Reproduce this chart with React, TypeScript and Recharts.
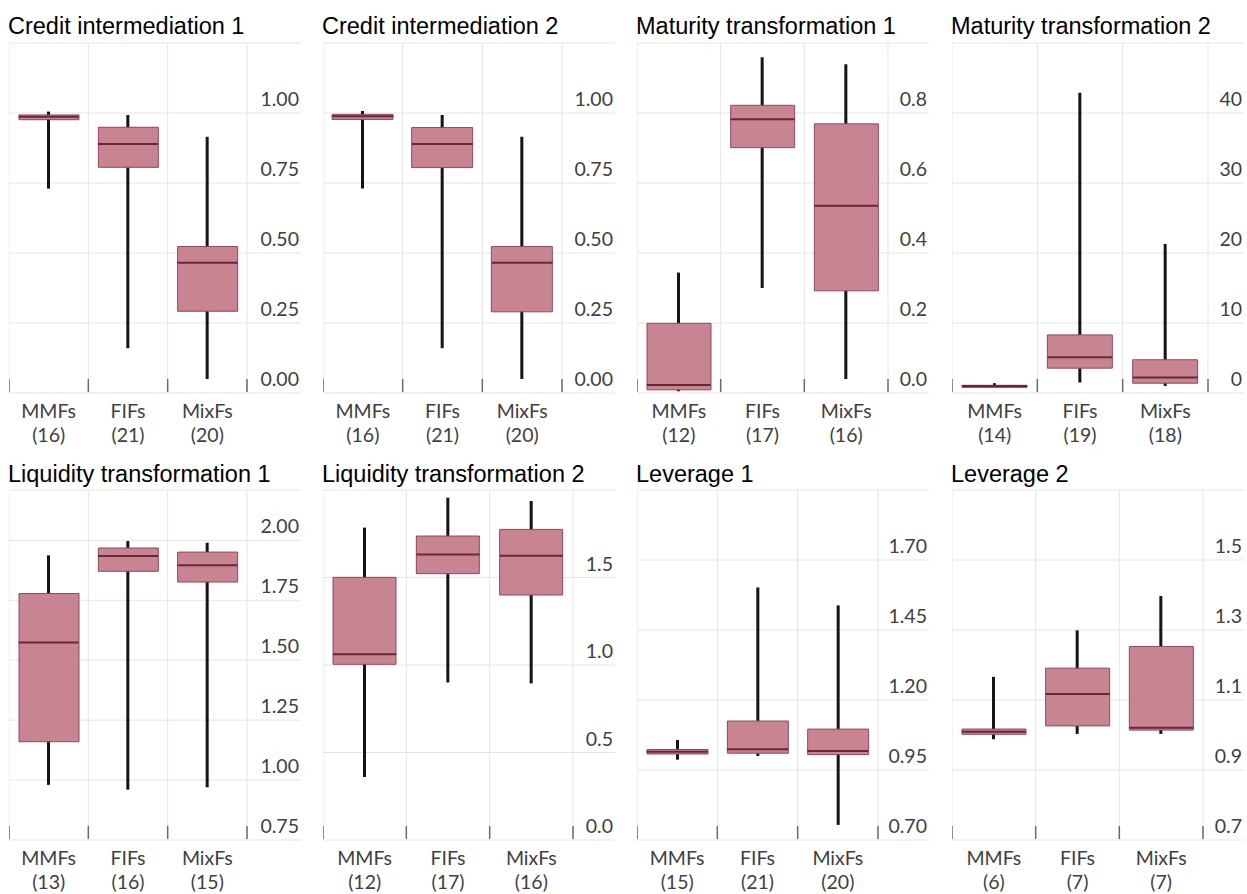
import React from "react";
import { Bar, CartesianGrid, ComposedChart, Scatter, XAxis, YAxis } from "recharts";

const categories = ["MMFs", "FIFs", "MixFs"];

const panelTitles = [
  "Credit intermediation 1",
  "Credit intermediation 2",
  "Maturity transformation 1",
  "Maturity transformation 2",
  "Liquidity transformation 1",
  "Liquidity transformation 2",
  "Leverage 1",
  "Leverage 2"
];

// number of funds in each group, one row per panel
const fundCounts = [
  [16, 21, 20],
  [16, 21, 20],
  [12, 17, 16],
  [14, 19, 18],
  [13, 16, 15],
  [12, 17, 16],
  [15, 21, 20],
  [6, 7, 7]
];

const whiskerLow = [
  [0.73, 0.16, 0.05],
  [0.73, 0.16, 0.05],
  [0.005, 0.3, 0.04],
  [0.9, 1.5, 1.0],
  [0.98, 0.96, 0.97],
  [0.36, 0.9, 0.895],
  [0.987, 1.0, 0.754],
  [0.988, 1.003, 1.003]
];

const quartile1 = [
  [0.976, 0.806, 0.292],
  [0.977, 0.805, 0.29],
  [0.009, 0.701, 0.292],
  [0.8, 3.55, 1.4],
  [1.16, 1.871, 1.826],
  [1.004, 1.522, 1.4],
  [1.007, 1.01, 1.005],
  [1.002, 1.026, 1.014]
];

const medians = [
  [0.987, 0.889, 0.465],
  [0.988, 0.889, 0.465],
  [0.023, 0.782, 0.535],
  [1.0, 5.1, 2.2],
  [1.574, 1.935, 1.896],
  [1.061, 1.632, 1.625],
  [1.015, 1.024, 1.018],
  [1.009, 1.117, 1.021]
];

const quartile3 = [
  [0.993, 0.949, 0.523],
  [0.995, 0.948, 0.523],
  [0.199, 0.822, 0.769],
  [1.1, 8.3, 4.75],
  [1.778, 1.968, 1.951],
  [1.501, 1.737, 1.775],
  [1.023, 1.125, 1.096],
  [1.017, 1.191, 1.253]
];

const whiskerHigh = [
  [1.005, 0.993, 0.915],
  [1.007, 0.993, 0.915],
  [0.344, 0.959, 0.939],
  [1.4, 42.9, 21.3],
  [1.9375, 1.997, 1.99],
  [1.785, 1.956, 1.937],
  [1.057, 1.602, 1.538],
  [1.166, 1.299, 1.397]
];

// labelled y ticks per panel; axisTop is the unlabelled top edge of each frame
const axisTicks = [
  [0, 0.25, 0.5, 0.75, 1],
  [0, 0.25, 0.5, 0.75, 1],
  [0, 0.2, 0.4, 0.6, 0.8],
  [0, 10, 20, 30, 40],
  [0.75, 1, 1.25, 1.5, 1.75, 2],
  [0, 0.5, 1, 1.5],
  [0.7, 0.95, 1.2, 1.45, 1.7],
  [0.7, 0.9, 1.1, 1.3, 1.5]
];
const axisTop = [1.25, 1.25, 1.0, 50, 2.21, 2.0, 1.95, 1.7];
const tickDecimals = [2, 2, 1, 0, 2, 1, 2, 1];

// layout
const colLeft = [9, 323, 637, 952];
const plotTop = [43, 490];
const titleTop = [15, 463];
const axisWidths = [54, 53, 41, 36, 54, 42, 51, 41];
const PANEL_W = 292;
const PLOT_H = 350;
const MARGIN_TOP = 1;
const X_AXIS_H = 55;

const GRID = "#e4e4e4";
const TICK = "#6a6a6a";
const LABEL = "#404040";
const BOX_FILL = "#c98494";
const BOX_STROKE = "#8b4a5c";
const MEDIAN = "#6b2636";
const WHISKER = "#141414";
const LABEL_FONT = "Lato, 'Open Sans', sans-serif";
const LABEL_SIZE = 19.5;

function Panel({ index }: { index: number }) {
  const col = index % 4;
  const row = Math.floor(index / 4);
  const axisW = axisWidths[index];
  const plotW = PANEL_W - axisW;
  const band = plotW / 3;
  const boxW = Math.round(band * 0.76);
  const bottom = MARGIN_TOP + PLOT_H;
  const top = axisTop[index];
  const ticks = [...axisTicks[index], top];

  const data = categories.map((name, i) => ({
    name,
    count: fundCounts[index][i],
    whisker: [whiskerLow[index][i], whiskerHigh[index][i]],
    box: [quartile1[index][i], quartile3[index][i]],
    median: medians[index][i]
  }));

  const renderYTick = (props: any) => {
    const { y, payload } = props;
    const v = payload.value;
    return (
      <g>
        <line x1={plotW} x2={PANEL_W} y1={y} y2={y} stroke={GRID} />
        {v !== top && (
          <text x={PANEL_W - 2} y={y - 7} textAnchor="end" fill={LABEL} fontSize={LABEL_SIZE} fontFamily={LABEL_FONT}>
            {Number(v).toFixed(tickDecimals[index])}
          </text>
        )}
      </g>
    );
  };

  const renderXTick = (props: any) => {
    const { x, payload, index: i } = props;
    const edges = i === categories.length - 1 ? [x - band / 2, x + band / 2] : [x - band / 2];
    return (
      <g>
        {edges.map((ex) => (
          <g key={ex}>
            <line x1={ex} x2={ex} y1={MARGIN_TOP} y2={bottom} stroke={GRID} />
            <line x1={ex} x2={ex} y1={bottom - 14} y2={bottom - 1} stroke={TICK} strokeWidth={1.5} />
          </g>
        ))}
        <text x={x} y={bottom + 25} textAnchor="middle" fill={LABEL} fontSize={LABEL_SIZE} fontFamily={LABEL_FONT}>
          {payload.value}
        </text>
        <text x={x} y={bottom + 48.5} textAnchor="middle" fill={LABEL} fontSize={LABEL_SIZE} fontFamily={LABEL_FONT}>
          ({data[i].count})
        </text>
      </g>
    );
  };

  const renderMedian = (p: any) => (
    <line x1={p.cx - boxW / 2} x2={p.cx + boxW / 2} y1={p.cy} y2={p.cy} stroke={MEDIAN} strokeWidth={2} />
  );

  return (
    <>
      <div
        style={{
          position: "absolute",
          left: colLeft[col] - 1,
          top: titleTop[row],
          fontFamily: "'Liberation Sans', Arial, sans-serif",
          fontSize: 23.5,
          lineHeight: "23.5px",
          whiteSpace: "nowrap",
          color: "#000"
        }}
      >
        {panelTitles[index]}
      </div>
      <div style={{ position: "absolute", left: colLeft[col], top: plotTop[row] - MARGIN_TOP }}>
        <ComposedChart
          width={PANEL_W}
          height={MARGIN_TOP + PLOT_H + X_AXIS_H}
          data={data}
          margin={{ top: MARGIN_TOP, right: 0, bottom: 0, left: 0 }}
        >
          <CartesianGrid stroke={GRID} vertical={false} />
          <XAxis
            xAxisId="w"
            dataKey="name"
            height={X_AXIS_H}
            axisLine={false}
            tickLine={false}
            interval={0}
            tick={renderXTick}
          />
          <XAxis xAxisId="b" dataKey="name" hide />
          <YAxis
            orientation="right"
            type="number"
            width={axisW}
            domain={[axisTicks[index][0], top]}
            ticks={ticks}
            interval={0}
            allowDataOverflow
            axisLine={false}
            tickLine={false}
            tick={renderYTick}
          />
          <Bar xAxisId="w" dataKey="whisker" barSize={3} fill={WHISKER} isAnimationActive={false} />
          <Bar
            xAxisId="b"
            dataKey="box"
            barSize={boxW}
            fill={BOX_FILL}
            stroke={BOX_STROKE}
            strokeWidth={1}
            isAnimationActive={false}
          />
          <Scatter xAxisId="b" dataKey="median" shape={renderMedian} isAnimationActive={false} />
        </ComposedChart>
      </div>
    </>
  );
}

export default function App() {
  return (
    <div
      style={{
        position: "absolute",
        left: 0,
        top: 0,
        width: 1247,
        height: 894,
        overflow: "hidden",
        background: "#fff"
      }}
    >
      {panelTitles.map((t, i) => (
        <Panel key={t} index={i} />
      ))}
    </div>
  );
}
